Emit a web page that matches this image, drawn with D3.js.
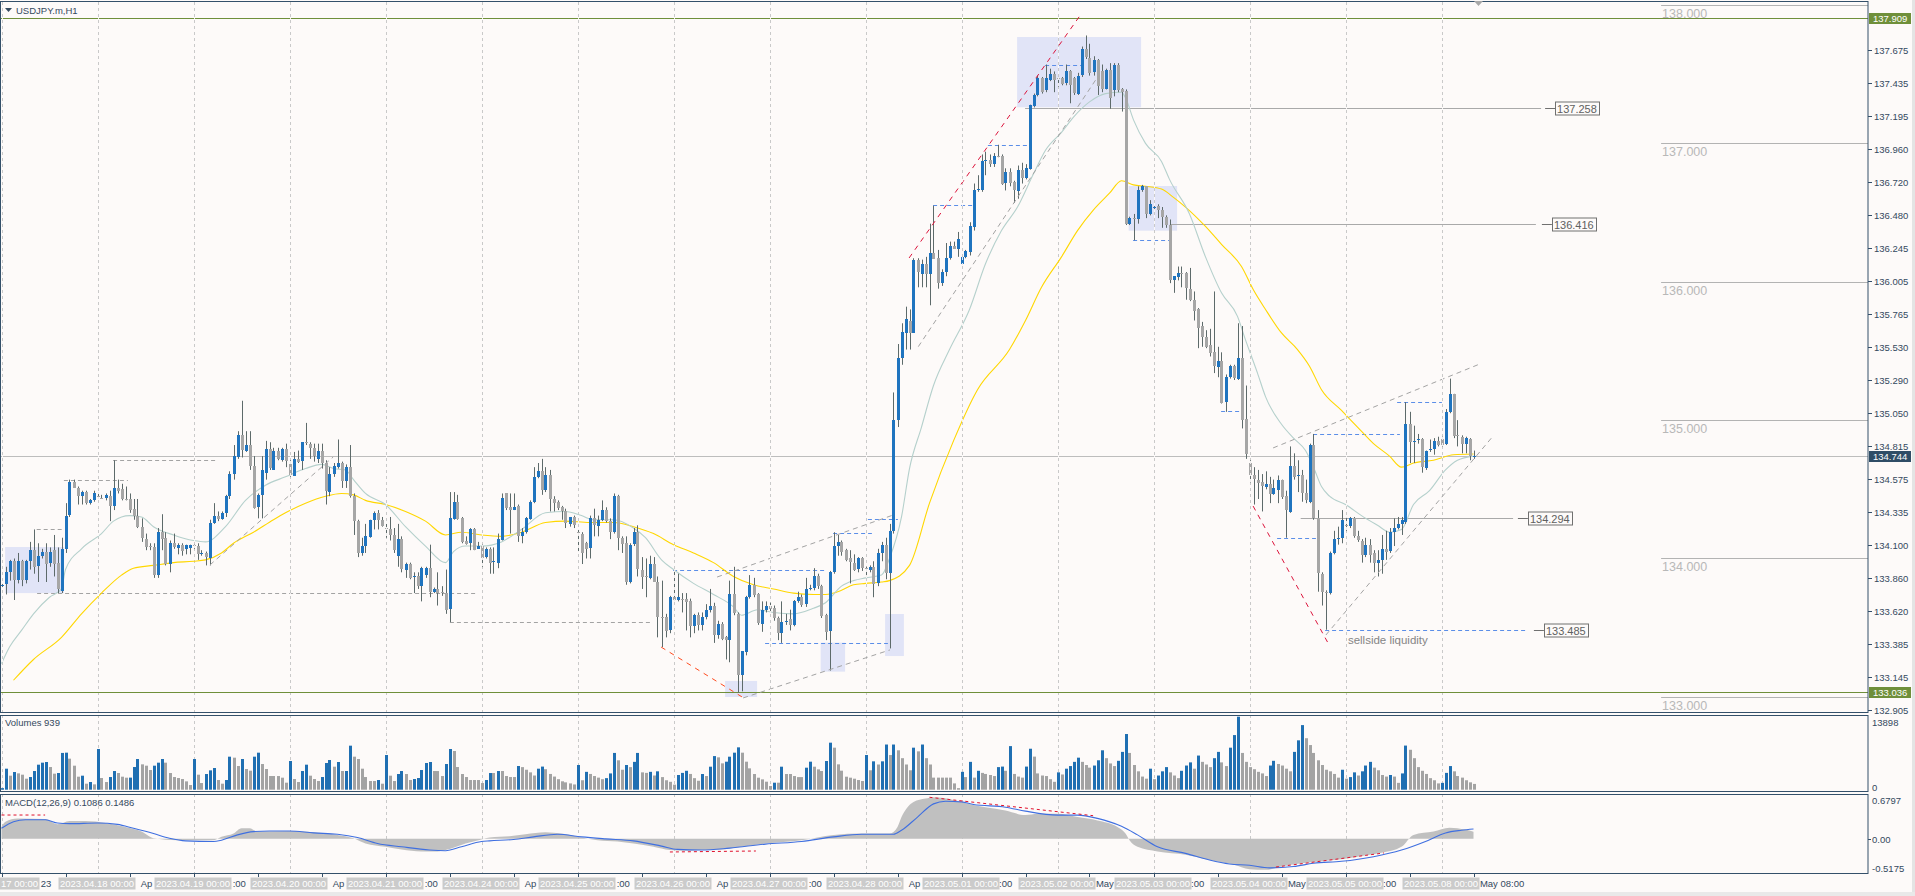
<!DOCTYPE html>
<html><head><meta charset="utf-8">
<script src="https://cdn.jsdelivr.net/npm/d3@7"></script>
<style>
html,body{margin:0;padding:0;background:#fdfaf9;overflow:hidden}
svg{display:block}
text{font-family:"Liberation Sans",Arial,sans-serif}
</style></head><body>
<svg id="c" width="1915" height="896"></svg>
<script>
// ---------------- DATA ----------------
const opens=[133.80,133.81,133.90,133.98,133.84,133.98,133.84,133.98,134.06,133.95,134.02,134.05,133.97,134.06,133.97,133.77,134.07,134.31,134.55,134.51,134.45,134.48,134.40,134.42,134.45,134.44,134.44,134.45,134.38,134.51,134.50,134.43,134.43,134.36,134.31,134.23,134.14,134.09,134.08,133.88,134.19,134.15,133.96,134.11,134.08,134.10,134.07,134.08,134.10,134.09,134.03,134.04,134.01,134.26,134.31,134.29,134.33,134.45,134.61,134.73,134.89,134.78,134.82,134.67,134.37,134.46,134.62,134.79,134.64,134.78,134.71,134.79,134.68,134.60,134.72,134.70,134.84,134.83,134.80,134.72,134.78,134.69,134.48,134.61,134.66,134.69,134.56,134.66,134.45,134.27,134.04,134.09,134.16,134.28,134.33,134.28,134.22,134.21,134.17,134.02,134.14,133.92,133.96,133.86,133.87,133.80,133.88,133.93,133.76,133.78,133.76,133.75,133.63,134.29,134.41,134.29,134.13,134.11,134.21,134.07,134.09,134.01,134.07,133.97,133.97,134.14,134.47,134.37,134.35,134.38,134.16,134.19,134.29,134.41,134.59,134.63,134.49,134.60,134.43,134.41,134.37,134.34,134.25,134.30,134.19,134.18,134.11,134.07,134.29,134.24,134.28,134.35,134.27,134.19,134.45,134.15,134.11,133.83,134.10,134.19,133.92,133.87,133.86,133.96,133.83,133.58,133.58,133.48,133.72,133.70,133.71,133.71,133.69,133.51,133.59,133.52,133.58,133.63,133.66,133.45,133.53,133.43,133.41,133.74,133.60,133.16,133.32,133.72,133.81,133.74,133.53,133.63,133.66,133.64,133.57,133.46,133.54,133.56,133.52,133.69,133.72,133.67,133.78,133.78,133.87,133.80,133.59,133.47,133.90,134.09,134.12,134.06,134.00,133.97,133.92,134.00,133.93,133.92,133.94,133.82,134.04,134.10,133.90,134.20,135.00,135.45,135.63,135.72,135.63,136.16,136.06,136.13,136.06,136.21,136.17,135.99,136.07,136.17,136.26,136.24,136.13,136.18,136.21,136.39,136.66,136.66,136.87,136.88,136.85,136.91,136.91,136.71,136.79,136.72,136.66,136.81,136.75,136.82,137.27,137.35,137.47,137.38,137.46,137.50,137.47,137.47,137.43,137.52,137.47,137.36,137.49,137.68,137.62,137.51,137.60,137.52,137.39,137.53,137.39,137.57,137.39,137.38,136.42,136.46,136.45,136.66,136.69,136.49,136.53,136.55,136.52,136.47,136.41,136.01,136.03,136.06,136.06,135.95,135.87,135.80,135.68,135.60,135.54,135.49,135.39,135.43,135.13,135.31,135.39,135.30,135.45,135.01,134.69,134.60,134.57,134.55,134.52,134.54,134.47,134.50,134.57,134.45,134.34,134.67,134.59,134.60,134.47,134.41,134.82,134.29,133.89,133.76,133.75,134.04,134.14,134.15,134.24,134.23,134.29,134.16,134.13,134.03,134.10,134.04,133.97,133.99,134.07,134.05,134.19,134.22,134.25,134.26,134.97,134.84,134.85,134.86,134.66,134.78,134.79,134.85,134.86,134.83,135.06,135.19,134.89,134.88,134.83,134.86,134.74];
const highs=[133.82,133.94,133.99,134.00,134.04,133.99,133.99,134.12,134.21,134.11,134.07,134.11,134.08,134.17,134.08,134.15,134.40,134.57,134.57,134.52,134.49,134.49,134.43,134.49,134.48,134.46,134.47,134.49,134.71,134.57,134.54,134.52,134.47,134.43,134.43,134.29,134.18,134.11,134.11,134.22,134.32,134.19,134.13,134.18,134.11,134.11,134.10,134.10,134.10,134.11,134.06,134.05,134.28,134.40,134.34,134.34,134.46,134.63,134.82,134.92,135.14,134.92,134.92,134.74,134.47,134.74,134.85,134.84,134.80,134.80,134.80,134.83,134.71,134.77,134.78,134.84,134.98,134.84,134.83,134.83,134.83,134.71,134.66,134.69,134.86,134.70,134.68,134.82,134.47,134.28,134.15,134.25,134.28,134.34,134.35,134.30,134.25,134.30,134.22,134.25,134.16,133.97,133.97,133.90,133.90,133.94,133.94,134.10,133.79,133.90,133.80,133.92,134.48,134.48,134.46,134.30,134.16,134.22,134.22,134.12,134.10,134.08,134.08,134.08,134.18,134.47,134.47,134.47,134.47,134.39,134.22,134.30,134.42,134.66,134.69,134.72,134.66,134.64,134.45,134.42,134.38,134.36,134.30,134.31,134.21,134.19,134.12,134.31,134.36,134.31,134.42,134.37,134.29,134.47,134.46,134.16,134.16,134.11,134.22,134.24,134.01,134.00,134.02,134.01,133.87,133.84,133.60,133.73,133.92,133.89,133.75,133.75,133.71,133.60,133.61,133.61,133.67,133.78,133.68,133.55,133.54,133.44,133.84,133.94,133.61,133.33,133.73,133.88,133.86,133.75,133.69,133.69,133.68,133.66,133.58,133.69,133.60,133.63,133.70,133.76,133.74,133.86,133.81,133.93,133.89,133.81,133.60,133.91,134.19,134.17,134.13,134.07,134.06,134.03,134.01,134.01,133.94,133.95,133.98,134.07,134.12,134.15,134.25,135.20,135.55,135.70,135.82,135.80,136.17,136.17,136.16,136.18,136.42,136.55,136.23,136.09,136.28,136.29,136.29,136.36,136.18,136.23,136.43,136.71,136.77,136.92,136.94,136.92,136.93,136.99,136.92,136.82,136.82,136.73,136.84,136.86,136.85,137.28,137.36,137.49,137.48,137.57,137.54,137.52,137.48,137.48,137.57,137.53,137.48,137.51,137.70,137.78,137.72,137.63,137.61,137.57,137.54,137.58,137.58,137.58,137.40,137.39,136.47,136.49,136.69,136.70,136.69,136.59,136.55,136.56,136.54,136.48,136.45,136.04,136.11,136.11,136.07,136.10,135.93,135.81,135.71,135.65,135.66,135.93,135.53,135.49,135.33,135.40,135.40,135.70,135.68,135.25,134.71,134.66,134.64,134.61,134.63,134.59,134.57,134.60,134.57,134.49,134.81,134.76,134.71,134.64,134.57,134.83,134.90,134.35,133.90,133.77,134.05,134.20,134.23,134.35,134.30,134.30,134.30,134.20,134.14,134.15,134.14,134.06,134.06,134.17,134.20,134.22,134.29,134.30,134.30,135.13,135.06,134.96,134.90,134.87,134.78,134.86,134.87,134.88,134.88,135.08,135.30,135.19,135.00,134.89,134.88,134.87,134.78];
const lows=[133.79,133.74,133.84,133.70,133.82,133.80,133.82,133.92,133.89,133.83,134.00,133.83,133.94,133.87,133.75,133.75,134.04,134.30,134.51,134.39,134.39,134.39,134.39,134.41,134.43,134.43,134.42,134.27,134.35,134.47,134.42,134.42,134.33,134.28,134.22,134.12,134.06,134.06,133.86,133.86,134.06,133.95,133.90,134.07,134.03,134.02,134.03,134.03,134.07,133.99,134.02,133.95,133.95,134.25,134.27,134.28,134.30,134.43,134.57,134.72,134.73,134.77,134.64,134.36,134.29,134.29,134.57,134.64,134.64,134.71,134.70,134.66,134.59,134.60,134.69,134.64,134.82,134.72,134.70,134.69,134.65,134.39,134.45,134.59,134.65,134.51,134.51,134.44,134.17,134.01,134.02,134.04,134.15,134.21,134.21,134.23,134.15,134.13,134.04,133.94,133.90,133.86,133.85,133.75,133.78,133.69,133.86,133.72,133.75,133.66,133.73,133.60,133.54,134.28,134.28,134.11,134.10,134.06,134.06,134.07,133.94,134.00,133.89,133.89,133.93,134.13,134.35,134.18,134.35,134.12,134.11,134.18,134.28,134.40,134.58,134.46,134.48,134.34,134.34,134.35,134.28,134.22,134.23,134.22,134.05,133.96,134.00,134.00,134.16,134.16,134.27,134.26,134.14,134.18,134.06,134.04,133.81,133.82,134.09,133.87,133.78,133.72,133.85,133.83,133.43,133.36,133.43,133.46,133.69,133.69,133.61,133.48,133.43,133.46,133.48,133.48,133.56,133.61,133.39,133.42,133.41,133.27,133.25,133.59,133.03,133.04,133.30,133.71,133.72,133.52,133.47,133.61,133.61,133.55,133.41,133.39,133.52,133.48,133.51,133.68,133.65,133.65,133.77,133.77,133.78,133.57,133.41,133.19,133.89,134.02,134.02,133.98,133.82,133.91,133.90,133.91,133.87,133.90,133.72,133.80,133.98,133.85,133.35,134.18,134.95,135.40,135.51,135.51,135.63,135.96,135.96,135.96,135.83,136.17,135.95,135.97,136.04,136.16,136.24,136.18,136.12,136.17,136.19,136.37,136.65,136.65,136.77,136.83,136.83,136.90,136.70,136.66,136.69,136.57,136.60,136.71,136.74,136.81,137.26,137.34,137.36,137.37,137.45,137.37,137.41,137.42,137.42,137.29,137.35,137.35,137.48,137.61,137.49,137.49,137.35,137.37,137.39,137.25,137.34,137.37,137.23,136.41,136.41,136.30,136.42,136.65,136.46,136.48,136.52,136.46,136.39,136.39,135.99,135.92,136.01,135.96,135.87,135.86,135.72,135.52,135.53,135.52,135.46,135.34,135.31,135.12,135.06,135.30,135.29,135.29,134.94,134.72,134.55,134.39,134.43,134.34,134.50,134.40,134.46,134.40,134.43,134.15,134.33,134.57,134.48,134.41,134.40,134.40,134.28,133.76,133.66,133.485,133.74,134.03,134.10,134.11,134.20,134.22,134.15,134.12,133.97,134.01,133.97,133.90,133.87,133.89,133.99,134.04,134.09,134.21,134.17,134.25,134.69,134.69,134.83,134.62,134.64,134.77,134.75,134.81,134.81,134.82,135.05,134.87,134.81,134.76,134.76,134.71,134.72];
const closes=[133.81,133.90,133.98,133.84,133.98,133.84,133.98,134.06,133.94,134.02,134.05,133.96,134.05,133.96,133.78,134.07,134.31,134.55,134.51,134.45,134.48,134.40,134.42,134.47,134.44,134.43,134.46,134.38,134.51,134.49,134.43,134.42,134.35,134.31,134.23,134.15,134.08,134.08,133.88,134.19,134.14,133.96,134.11,134.08,134.10,134.06,134.10,134.10,134.09,134.03,134.04,134.01,134.26,134.31,134.29,134.33,134.45,134.61,134.74,134.89,134.78,134.82,134.67,134.37,134.46,134.64,134.79,134.65,134.78,134.72,134.79,134.70,134.60,134.72,134.70,134.84,134.83,134.80,134.74,134.78,134.69,134.49,134.61,134.67,134.69,134.56,134.66,134.45,134.27,134.04,134.09,134.16,134.28,134.33,134.28,134.24,134.21,134.17,134.06,134.14,133.92,133.96,133.86,133.87,133.80,133.93,133.93,133.76,133.78,133.75,133.75,133.63,134.29,134.41,134.29,134.12,134.11,134.21,134.06,134.09,134.00,134.07,133.97,133.98,134.14,134.44,134.36,134.35,134.37,134.16,134.19,134.29,134.41,134.59,134.63,134.49,134.60,134.43,134.40,134.37,134.34,134.25,134.30,134.24,134.18,134.04,134.07,134.29,134.24,134.28,134.35,134.27,134.19,134.45,134.15,134.11,133.83,134.10,134.19,133.92,133.87,133.86,133.96,133.83,133.58,133.57,133.48,133.72,133.70,133.72,133.70,133.69,133.51,133.59,133.52,133.58,133.63,133.66,133.45,133.53,133.42,133.41,133.74,133.60,133.16,133.33,133.72,133.81,133.74,133.53,133.63,133.66,133.64,133.57,133.46,133.54,133.55,133.52,133.69,133.72,133.66,133.78,133.79,133.87,133.80,133.58,133.47,133.90,134.09,134.12,134.05,133.99,133.97,133.92,134.00,133.93,133.92,133.94,133.82,134.04,134.10,133.90,134.20,135.00,135.45,135.64,135.73,135.63,136.16,136.07,136.13,136.06,136.21,136.17,135.99,136.07,136.17,136.26,136.24,136.31,136.18,136.22,136.40,136.66,136.67,136.87,136.88,136.85,136.91,136.90,136.71,136.79,136.71,136.66,136.81,136.75,136.82,137.28,137.35,137.47,137.37,137.47,137.50,137.46,137.46,137.43,137.52,137.42,137.36,137.49,137.68,137.62,137.51,137.60,137.41,137.39,137.53,137.33,137.57,137.39,137.37,136.42,136.46,136.45,136.66,136.69,136.49,136.56,136.54,136.52,136.47,136.41,136.01,136.04,136.06,136.05,135.95,135.87,135.79,135.66,135.60,135.53,135.48,135.39,135.43,135.13,135.31,135.39,135.30,135.45,135.00,134.76,134.60,134.57,134.55,134.52,134.54,134.47,134.51,134.57,134.45,134.35,134.67,134.59,134.60,134.47,134.42,134.82,134.29,133.89,133.76,133.75,134.04,134.14,134.15,134.28,134.23,134.29,134.16,134.13,134.03,134.10,134.03,133.97,133.99,134.07,134.05,134.19,134.22,134.25,134.28,134.97,134.84,134.85,134.86,134.66,134.78,134.79,134.85,134.82,134.82,135.06,135.19,134.89,134.88,134.83,134.87,134.74,134.744];
const volumes=[300,4000,2667,3366,3112,2858,2096,2413,3556,4763,5144,5271,4318,3048,3175,7000,7050,5906,4572,2477,2667,1143,1461,1016,7747,2223,1461,2413,3556,3175,2477,2286,2300,4318,5842,4826,4572,3747,4572,5144,5842,5144,3175,2413,2223,2032,1588,889,5842,2858,1270,2985,3683,4128,1842,1143,1842,6287,6096,4509,5842,3937,3620,6287,7049,4890,3937,2604,2604,2600,2286,1334,5461,2032,1461,3556,4763,2667,2032,1651,2413,5080,5652,4382,5271,3556,3560,8382,6287,5842,4000,2413,1651,1650,1842,1143,6604,2667,1651,2985,3556,2985,1842,2032,2223,3747,5080,5271,3556,3550,2604,4890,7747,7366,4318,2985,2413,1842,1842,1842,1270,1842,3175,3175,3556,3556,2604,2413,2413,4509,
4300,3800,3300,2700,4000,4400,3900,3000,2500,2000,1600,1400,1200,1000,4700,1800,3400,3000,2600,2300,2000,2200,3100,7000,5600,3800,4700,4300,5300,7000,3300,3200,3400,2700,3500,2400,1800,1500,960,2800,3200,3600,3000,2200,1700,
2985,2600,4380,6400,6160,5016,5334,6286,7048,8064,7048,5334,4064,2985,2286,1968,1524,700,1333,1333,4380,2985,2985,2600,2400,2400,4190,5334,4380,3873,3556,5461,8953,8000,4826,3620,2476,2286,2095,1841,1651,6604,
3700,5400,4800,5400,8600,6600,8600,7500,6000,4800,3700,8000,7300,8600,6000,4800,2300,2300,2300,2300,2300,1200,300,
3400,2400,5300,2300,3600,3200,3000,2800,2600,4300,4400,3600,8300,3000,2500,2300,4400,7800,6300,3100,2700,2600,2000,1500,
3300,2900,4000,4500,5300,6100,5300,4700,4200,4600,5600,7500,6000,5000,4500,5500,7200,10600,7000,4700,3500,2500,2100,4000,
2000,2700,3500,4300,3300,2700,2200,3600,4600,5200,4000,6500,5300,4800,4300,6000,7200,5200,4500,8000,10400,13898,7000,5300,
4300,3900,3400,3100,2600,4600,5500,4900,4600,4000,3500,7200,9400,12300,9800,8500,7000,5600,4700,3800,3500,3000,2300,3800,
2100,2400,3300,2700,3500,4600,5300,4200,3700,2800,2500,2800,2500,1300,3100,8400,7600,6000,4300,3600,3000,2200,1800,1200,
1300,3200,4500,3500,2600,2300,1800,1400,1100];
const lastVolume=939;
// moving averages: [bar, price]
const maFast=[[0,133.24],[2,133.36],[5,133.48],[8,133.60],[12,133.72],[15,133.78],[16,133.92],[20,134.07],[25,134.18],[28,134.27],[32,134.31],[35,134.30],[38,134.23],[43,134.17],[48,134.13],[51,134.12],[56,134.23],[61,134.42],[66,134.53],[71,134.59],[76,134.65],[80,134.68],[83,134.65],[86,134.64],[88,134.57],[91,134.47],[96,134.39],[101,134.23],[106,134.09],[111,133.97],[113,134.05],[116,134.09],[120,134.09],[125,134.12],[130,134.21],[136,134.33],[141,134.34],[145,134.31],[148,134.28],[153,134.28],[158,134.22],[161,134.15],[165,133.99],[168,133.92],[173,133.82],[178,133.74],[183,133.65],[185,133.59],[189,133.63],[193,133.61],[198,133.60],[203,133.64],[206,133.68],[210,133.80],[213,133.84],[216,133.86],[220,133.88],[222,134.00],[225,134.30],[227,134.65],[230,134.95],[233,135.25],[237,135.51],[242,135.80],[246,136.13],[250,136.37],[254,136.54],[258,136.78],[261,136.95],[265,137.08],[268,137.19],[272,137.30],[276,137.36],[280,137.37],[281,137.33],[283,137.17],[286,137.00],[290,136.87],[292,136.74],[297,136.49],[301,136.18],[305,135.92],[309,135.75],[311,135.58],[314,135.34],[316,135.17],[320,134.97],[323,134.87],[326,134.78],[328,134.66],[330,134.52],[332,134.45],[336,134.39],[340,134.31],[344,134.24],[347,134.19],[350,134.21],[353,134.39],[357,134.49],[361,134.64],[364,134.71],[368,134.74]];
const maSlow=[[3,133.12],[8,133.27],[15,133.43],[20,133.60],[25,133.75],[30,133.88],[33,133.93],[38,133.95],[43,133.97],[48,133.98],[51,133.99],[55,134.04],[58,134.11],[63,134.19],[68,134.28],[71,134.33],[76,134.40],[81,134.45],[85,134.47],[88,134.46],[91,134.42],[96,134.39],[101,134.34],[106,134.27],[111,134.17],[115,134.19],[120,134.17],[125,134.16],[130,134.19],[136,134.26],[141,134.27],[147,134.26],[153,134.26],[158,134.23],[163,134.18],[168,134.10],[173,134.04],[178,133.97],[183,133.87],[188,133.81],[193,133.78],[198,133.75],[203,133.74],[206,133.74],[210,133.77],[213,133.81],[216,133.82],[220,133.83],[222,133.84],[227,133.95],[232,134.40],[238,134.85],[244,135.22],[252,135.51],[256,135.72],[260,135.96],[265,136.18],[269,136.37],[273,136.52],[277,136.64],[280,136.73],[283,136.70],[286,136.69],[290,136.67],[293,136.61],[296,136.54],[301,136.40],[305,136.27],[310,136.11],[313,135.94],[316,135.80],[320,135.63],[324,135.51],[327,135.39],[330,135.22],[335,135.07],[339,134.95],[343,134.83],[347,134.74],[350,134.66],[353,134.69],[358,134.71],[363,134.75],[368,134.755]];
const macdMain=[[0,0.18],[1,0.26],[4,0.31],[11,0.30],[14,0.22],[17,0.27],[21,0.27],[26,0.24],[31,0.18],[35,0.11],[38,0.01],[44,-0.02],[53,-0.02],[55,0.03],[58,0.08],[60,0.16],[62,0.16],[64,0.11],[72,0.12],[78,0.10],[84,0.06],[88,0.01],[91,-0.07],[96,-0.12],[100,-0.16],[105,-0.19],[109,-0.19],[111,-0.17],[116,-0.07],[120,-0.01],[122,0.02],[127,0.04],[131,0.07],[136,0.10],[140,0.08],[145,0.02],[149,-0.02],[154,-0.04],[158,-0.07],[163,-0.12],[167,-0.17],[171,-0.18],[175,-0.17],[180,-0.16],[185,-0.12],[191,-0.07],[200,-0.02],[208,0.06],[215,0.08],[222,0.08],[224,0.18],[225,0.33],[228,0.56],[231,0.61],[233,0.63],[238,0.59],[241,0.54],[246,0.48],[251,0.43],[256,0.36],[259,0.38],[264,0.38],[269,0.33],[274,0.28],[279,0.18],[281,0.08],[282,-0.02],[284,-0.12],[289,-0.19],[296,-0.24],[302,-0.32],[308,-0.39],[312,-0.46],[316,-0.47],[320,-0.42],[325,-0.37],[330,-0.34],[335,-0.31],[340,-0.26],[345,-0.21],[350,-0.12],[353,0.06],[358,0.11],[362,0.17],[366,0.14],[368,0.1086]];
const macdSignal=[[0,0.16],[3,0.26],[6,0.29],[11,0.29],[14,0.24],[17,0.23],[24,0.24],[29,0.22],[33,0.16],[38,0.08],[42,0.01],[46,-0.03],[53,-0.04],[55,-0.02],[59,0.06],[63,0.11],[67,0.12],[72,0.12],[78,0.09],[84,0.07],[89,0.02],[94,-0.07],[100,-0.12],[107,-0.17],[111,-0.18],[115,-0.12],[120,-0.04],[122,-0.03],[128,-0.01],[133,0.03],[139,0.07],[145,0.03],[151,0.00],[158,-0.03],[165,-0.11],[169,-0.16],[175,-0.17],[182,-0.14],[191,-0.08],[200,-0.04],[208,0.03],[215,0.07],[223,0.07],[225,0.13],[229,0.33],[233,0.53],[236,0.57],[240,0.56],[243,0.52],[251,0.48],[256,0.42],[264,0.36],[269,0.36],[274,0.31],[280,0.19],[284,0.06],[289,-0.12],[296,-0.22],[302,-0.32],[307,-0.38],[312,-0.40],[317,-0.44],[323,-0.42],[328,-0.37],[335,-0.34],[343,-0.27],[350,-0.17],[356,-0.04],[361,0.09],[365,0.13],[368,0.1486]];
const priceTicks=[137.675,137.435,137.195,136.960,136.720,136.480,136.245,136.005,135.765,135.530,135.290,135.050,134.815,134.575,134.335,134.100,133.860,133.620,133.385,133.145,132.905];
const dayLabels=["2023.04.17 00:00","2023.04.18 00:00","2023.04.19 00:00","2023.04.20 00:00","2023.04.21 00:00","2023.04.24 00:00","2023.04.25 00:00","2023.04.26 00:00","2023.04.27 00:00","2023.04.28 00:00","2023.05.01 00:00","2023.05.02 00:00","2023.05.03 00:00","2023.05.04 00:00","2023.05.05 00:00","2023.05.08 00:00"];
const dayShort=["17 Apr","18 Apr","19 Apr","20 Apr","21 Apr","24 Apr","25 Apr","26 Apr","27 Apr","28 Apr","1 May","2 May","3 May","4 May","5 May","8 May"];
const roundLevels=[138,137,136,135,134,133];
const greenLevels=[137.909,133.036];
// annotations in data units: [barFrom, barTo, price]
const blueDashed=[[167.9,206.4,133.917],[190.9,221.6,133.392],[207.9,217.6,134.182],[216.6,224.1,134.285],[232.9,242.9,136.553],[246.6,256.6,136.987],[260.9,270.6,137.565],[282.9,292.6,136.302],[304.9,310.1,135.066],[318.9,328.6,134.146],[327.9,349.6,134.900],[348.9,360.1,135.129],[330.9,381.1,133.485]];
const grayDashed=[[8.8,15.7,134.211],[15.6,31.6,134.567],[27.9,54.1,134.712],[8.9,118.9,133.748],[112.1,162.1,133.539]];
const levelLines=[[255.9,384.9,388.4,137.258],[292.1,383.6,387.6,136.416],[324.8,377.9,381.6,134.294],[null,381.1,385.6,133.485]];
const boxes=[[0.9,15.6,134.083,133.75],[253.9,284.9,137.769,137.261],[281.8,293.9,136.692,136.369],[180.9,188.9,133.115,132.999],[204.8,210.9,133.392,133.182],[220.9,225.6,133.599,133.295]];
// trend lines [bar0,price0,bar1,price1]
const redLines=[[226.9,136.172,269.9,137.935],[164.9,133.36,185.1,133.00],[312.9,134.379,331.9,133.375]];
const grayLines=[[229.2,135.531,273.8,137.470],[52.1,133.953,82.9,134.733],[178.9,133.866,222.9,134.314],[185.4,132.992,222.1,133.339],[317.9,134.799,369.6,135.406],[331.1,133.447,372.9,134.885]];
const macdRedLines=[[0,0.361,10.9,0.361],[167.1,-0.199,188.6,-0.184],[232,0.630,272.9,0.351],[318.6,-0.427,345.6,-0.214]];

// ---------------- DRAW ----------------
const W=1915,H=896, BG='#fdfaf9', FR='#34506a', TXT='#34495e';
const UP='#1f74bf', DN='#a6a6a6', WICK='#5d6a6a';
const svg=d3.select('#c');
const x=d3.scaleLinear().domain([0,368]).range([1.5,1473.5]);
const y=d3.scaleLinear().domain([132.905,137.675]).range([710,50]);
const yv=d3.scaleLinear().domain([0,13898]).range([789.7,716.7]);
const ym=d3.scaleLinear().domain([-0.5175,0.6797]).range([873,794]);
const PR=1868;
svg.append('rect').attr('width',W).attr('height',H).attr('fill',BG);
svg.append('rect').attr('x',1912).attr('y',0).attr('width',3).attr('height',H).attr('fill','#e4e4e4');
svg.append('rect').attr('x',0).attr('y',892).attr('width',W).attr('height',4).attr('fill','#e9e9e9');
const defs=svg.append('defs');
[['cm',1,2,PR-1,710],['cv',1,715,PR-1,76],['cd',1,794,PR-1,79]].forEach(c=>{
  defs.append('clipPath').attr('id',c[0]).append('rect').attr('x',c[1]).attr('y',c[2]).attr('width',c[3]).attr('height',c[4]);});
const gm=svg.append('g').attr('clip-path','url(#cm)');
const gv=svg.append('g').attr('clip-path','url(#cv)');
const gd=svg.append('g').attr('clip-path','url(#cd)');

// rectangles
gm.selectAll('rect.box').data(boxes).join('rect').attr('class','box')
 .attr('x',d=>x(d[0])).attr('width',d=>x(d[1])-x(d[0])).attr('y',d=>y(d[2])).attr('height',d=>y(d[3])-y(d[2])).attr('fill','#e1e4f7');

// day separators
const sepBars=d3.range(0,369,24);
const panels=[[gm,2,712],[gv,715,791],[gd,794,873]];
panels.forEach(([g,a,b])=>{
  g.selectAll(null).data(sepBars).join('line').attr('x1',d=>Math.round(x(d))+0.5).attr('x2',d=>Math.round(x(d))+0.5)
   .attr('y1',a).attr('y2',b).attr('stroke','#c9c9c9').attr('stroke-dasharray','3,3');
});

// horizontal levels
const hy=p=>Math.round(y(p))+0.5;
gm.selectAll(null).data(greenLevels).join('line').attr('x1',0).attr('x2',PR).attr('y1',hy).attr('y2',hy).attr('stroke','#6f8f3a');
gm.selectAll(null).data(roundLevels).join('line').attr('x1',x(414.9)).attr('x2',PR).attr('y1',hy).attr('y2',hy).attr('stroke','#b3b3b3');
gm.selectAll(null).data(roundLevels).join('text').attr('x',x(414.9)+1).attr('y',d=>y(d)+13).text(d=>d.toFixed(3)).attr('fill','#b8b8b8').attr('font-size','12.5px');
const last=closes[closes.length-1];
gm.append('line').attr('x1',0).attr('x2',PR).attr('y1',hy(last)).attr('y2',hy(last)).attr('stroke','#bdbdbd');
gm.selectAll(null).data(grayDashed).join('line').attr('x1',d=>x(d[0])).attr('x2',d=>x(d[1])).attr('y1',d=>hy(d[2])).attr('y2',d=>hy(d[2])).attr('stroke','#a3a3a3').attr('stroke-dasharray','4,3');
gm.selectAll(null).data(blueDashed).join('line').attr('x1',d=>x(d[0])).attr('x2',d=>x(d[1])).attr('y1',d=>hy(d[2])).attr('y2',d=>hy(d[2])).attr('stroke','#5b8ee8').attr('stroke-dasharray','4,3');
// level lines with price label boxes
levelLines.forEach(([b0,b1,bb,p])=>{
  const yy=hy(p);
  if(b0!==null) gm.append('line').attr('x1',x(b0)).attr('x2',x(b1)).attr('y1',yy).attr('y2',yy).attr('stroke','#a9a9a9');
  gm.append('line').attr('x1',x(bb)-10).attr('x2',x(bb)).attr('y1',yy).attr('y2',yy).attr('stroke','#707070');
  const t=gm.append('text').attr('x',x(bb)+2).attr('y',yy+4).text(p.toFixed(3)).attr('fill','#606060').attr('font-size','11px');
  const w=t.node().getComputedTextLength();
  gm.insert('rect','text').attr('x',Math.round(x(bb))+0.5).attr('y',yy-6.5).attr('width',Math.round(w)+4).attr('height',13).attr('fill',BG).attr('stroke','#707070');
});

// moving averages
const ln=d3.line().x(d=>x(d[0])).y(d=>y(d[1])).curve(d3.curveMonotoneX);
gm.append('path').attr('d',ln(maSlow)).attr('fill','none').attr('stroke','#ffd700').attr('stroke-width',1.1);
gm.append('path').attr('d',ln(maFast)).attr('fill','none').attr('stroke','#b5d0cc').attr('stroke-width',1.1);

// candles
const idx=d3.range(opens.length);
gm.selectAll('line.wick').data(idx).join('line').attr('class','wick')
 .attr('x1',i=>Math.round(x(i))+0.5).attr('x2',i=>Math.round(x(i))+0.5)
 .attr('y1',i=>y(highs[i])).attr('y2',i=>y(lows[i])).attr('stroke',WICK);
gm.selectAll('rect.body').data(idx).join('rect').attr('class','body')
 .attr('x',i=>Math.round(x(i))-1).attr('width',3)
 .attr('y',i=>Math.round(y(Math.max(opens[i],closes[i]))))
 .attr('height',i=>Math.max(1,Math.round(Math.abs(y(opens[i])-y(closes[i])))))
 .attr('fill',i=>closes[i]>=opens[i]?UP:DN);

// trend lines
gm.selectAll(null).data(redLines).join('line').attr('x1',d=>x(d[0])).attr('y1',d=>y(d[1])).attr('x2',d=>x(d[2])).attr('y2',d=>y(d[3]))
 .attr('stroke',(d,i)=>i===1?'#ff4b1f':'#dc143c').attr('stroke-dasharray','5,5').attr('stroke-width',1);
gm.selectAll(null).data(grayLines).join('line').attr('x1',d=>x(d[0])).attr('y1',d=>y(d[1])).attr('x2',d=>x(d[2])).attr('y2',d=>y(d[3]))
 .attr('stroke','#a3a3a3').attr('stroke-dasharray','5,4');
gm.append('text').attr('x',x(336.6)).attr('y',y(133.485)+14).text('sellside liquidity').attr('fill','#858585').attr('font-size','11.5px');

// separators overlay on marks (MT4 draws them over)
panels.forEach(([g,a,b])=>{
  g.selectAll(null).data(sepBars).join('line').attr('x1',d=>Math.round(x(d))+0.5).attr('x2',d=>Math.round(x(d))+0.5)
   .attr('y1',a+3).attr('y2',b).attr('stroke',BG).attr('stroke-dasharray','3,3').attr('stroke-opacity',0.9);
});

// volumes
gv.selectAll('rect.v').data(idx).join('rect').attr('class','v')
 .attr('x',i=>Math.round(x(i))-1).attr('width',3)
 .attr('y',i=>yv(volumes[i])).attr('height',i=>yv(0)-yv(volumes[i]))
 .attr('fill',i=>(i===0||volumes[i]>volumes[i-1])?'#1f6fb2':'#a3a3a3');

// MACD
const ar=d3.area().x(d=>x(d[0])).y0(ym(0)).y1(d=>ym(d[1])).curve(d3.curveMonotoneX);
gd.append('path').attr('d',ar(macdMain)).attr('fill','#c0c0c0');
const lnm=d3.line().x(d=>x(d[0])).y(d=>ym(d[1])).curve(d3.curveMonotoneX);
gd.append('path').attr('d',lnm(macdSignal)).attr('fill','none').attr('stroke','#3f6fe0').attr('stroke-width',1.1);
gd.selectAll(null).data(macdRedLines).join('line').attr('x1',d=>x(d[0])).attr('y1',d=>ym(d[1])).attr('x2',d=>x(d[2])).attr('y2',d=>ym(d[3]))
 .attr('stroke','#e0102c').attr('stroke-dasharray','3,3');

// frames
[[1,712],[715,791],[794,873]].forEach(([a,b])=>{
  svg.append('rect').attr('x',0.5).attr('y',a+0.5).attr('width',PR-0.5).attr('height',b-a).attr('fill','none').attr('stroke',FR);
});

// titles
svg.append('path').attr('d','M5,8 L12,8 L8.5,12 Z').attr('fill',TXT);
svg.append('text').attr('x',16).attr('y',14).text('USDJPY.m,H1').attr('fill',TXT).attr('font-size','9.5px');
svg.append('text').attr('x',5).attr('y',726).text('Volumes '+lastVolume).attr('fill',TXT).attr('font-size','9.5px');
svg.append('text').attr('x',5).attr('y',806).text('MACD(12,26,9) '+macdMain[macdMain.length-1][1].toFixed(4)+' '+macdSignal[macdSignal.length-1][1].toFixed(4)).attr('fill',TXT).attr('font-size','9.5px');
svg.append('path').attr('d','M1474,1 L1483,1 L1478.5,6 Z').attr('fill','#a8a8a8');

// right price axis
const ax=svg.append('g');
priceTicks.forEach(p=>{
  const yy=hy(p);
  ax.append('line').attr('x1',PR).attr('x2',PR+4).attr('y1',yy).attr('y2',yy).attr('stroke',FR);
  ax.append('text').attr('x',PR+6).attr('y',yy+3.5).text(p.toFixed(3)).attr('fill',TXT).attr('font-size','9.5px');
});
function tag(p,fill){
  const yy=hy(p);
  ax.append('rect').attr('x',PR+1).attr('y',yy-5.5).attr('width',42).attr('height',11).attr('fill',fill);
  ax.append('text').attr('x',PR+5).attr('y',yy+3.5).text(p.toFixed(3)).attr('fill','#ffffff').attr('font-size','9.5px');
}
greenLevels.forEach(p=>tag(p,'#6f8f3a'));
tag(last,'#2f4d66');
[[13898,'13898',722],[0,'0',787]].forEach(d=>ax.append('text').attr('x',PR+4).attr('y',d[2]+3.5).text(d[1]).attr('fill',TXT).attr('font-size','9.5px'));
[[0.6797,'0.6797',800],[0,'0.00',839],[-0.5175,'-0.5175',868]].forEach(d=>{
  ax.append('text').attr('x',PR+4).attr('y',d[2]+3.5).text(d[1]).attr('fill',TXT).attr('font-size','9.5px');});
ax.append('line').attr('x1',PR).attr('x2',PR+3).attr('y1',839.5).attr('y2',839.5).attr('stroke',FR);

// time axis: regular labels every 16 bars, partly hidden under the vertical-line date tags
const boxExt=sepBars.map(b=>[x(b)-39,x(b)+38]);
const tAxis=svg.append('g');
// fraction of a glyph covered by tags (or the left edge)
function coverFrac(sx,ex,useBoxes){
  const w=Math.max(0.1,ex-sx); let f=sx<0?Math.min(1,(0-sx)/w):0;
  if(useBoxes) boxExt.forEach(([a,c])=>{const o=Math.min(ex,c)-Math.max(sx,a); if(o>0) f=Math.max(f,o/w);});
  return f;
}
function visibleRuns(node,useBoxes,thr){
  const s=node.textContent, runs=[]; let cur=null;
  for(let c=0;c<s.length;c++){
    const sx=node.getStartPositionOfChar(c).x, ex=node.getEndPositionOfChar(c).x;
    if(coverFrac(sx,ex,useBoxes)<=thr){ if(!cur){cur={i:c,x:sx,t:''};runs.push(cur);} cur.t+=s[c]; }
    else cur=null;
  }
  return runs.map(r=>{const lead=r.t.length-r.t.trimStart().length;
    const xx=lead?node.getStartPositionOfChar(r.i+lead).x:r.x; return {x:xx,t:r.t.trim()};}).filter(r=>r.t.length);
}
const tb=d3.range(0,369,16);
tb.forEach(b=>{
  const d=Math.floor(b/24),h=b%24;
  const t=b===0?dayShort[0]+' 2023':dayShort[d]+' '+String(h).padStart(2,'0')+':00';
  const xx=Math.round(x(b))+0.5;
  tAxis.append('line').attr('x1',xx).attr('x2',xx).attr('y1',873).attr('y2',877).attr('stroke',FR);
  const tmp=tAxis.append('text').attr('x',x(b)-1.5).attr('y',887).text(t).attr('font-size','9.5px');
  const runs=visibleRuns(tmp.node(),true,0.25);
  tmp.remove();
  runs.forEach(r=>tAxis.append('text').attr('x',r.x).attr('y',887).text(r.t).attr('fill',TXT).attr('font-size','9.5px'));
});
sepBars.forEach((b,k)=>{
  const c=x(b);
  tAxis.append('rect').attr('x',c-39).attr('y',877.5).attr('width',77).attr('height',12).attr('fill','#cbcbcb');
  const tmp=tAxis.append('text').attr('x',c-0.5).attr('y',887).attr('text-anchor','middle').text(dayLabels[k]).attr('font-size','9.5px');
  const runs=visibleRuns(tmp.node(),false,0.1);
  tmp.remove();
  runs.forEach(r=>tAxis.append('text').attr('x',r.x).attr('y',887).text(r.t).attr('fill','#ffffff').attr('font-size','9.5px'));
});
</script></body></html>
